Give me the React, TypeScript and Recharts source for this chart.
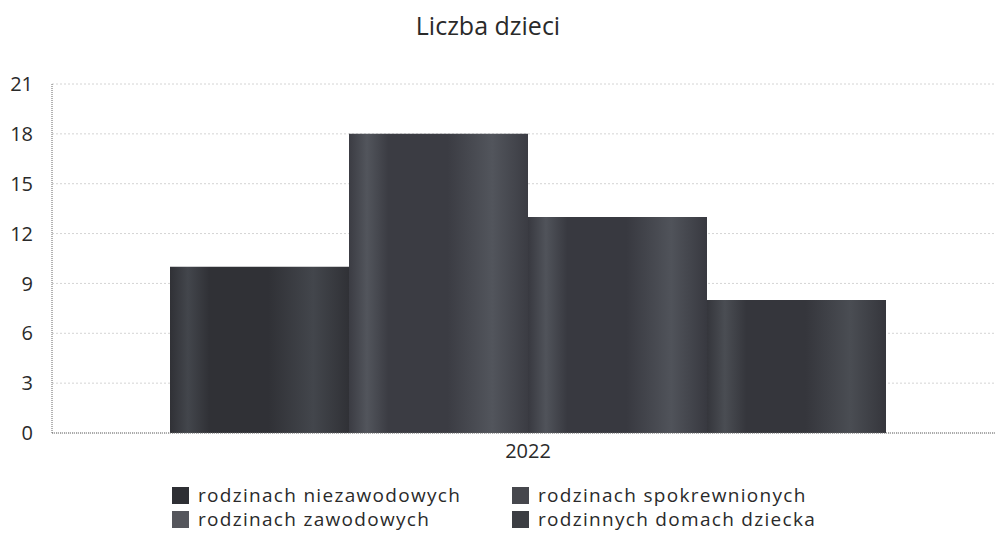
import React from "react";
import { BarChart, Bar, XAxis, YAxis, CartesianGrid } from "recharts";

const categories = ["2022"];
const seriesNames = [
  "rodzinach niezawodowych",
  "rodzinach spokrewnionych",
  "rodzinach zawodowych",
  "rodzinnych domach dziecka",
];
const seriesValues = [10, 18, 13, 8];
const yTicks = [0, 3, 6, 9, 12, 15, 18, 21];
const title = "Liczba dzieci";

const seriesKeys = ["s0", "s1", "s2", "s3"];
const baseColors = ["#303136", "#3b3c43", "#383940", "#35363c"];
const lightColors = ["#43464c", "#52555c", "#50535a", "#4a4d53"];
const legendColors = ["#2e2f34", "#46474d", "#55565c", "#3c3e43"];

const data = categories.map((c) => {
  const row: Record<string, number | string> = { name: c };
  seriesKeys.forEach((k, i) => (row[k] = seriesValues[i]));
  return row;
});

const FONT = "'Open Sans', sans-serif";

const LegendBlock = () => (
  <div style={{ position: "absolute", left: 0, top: 484, width: 995, height: 50, fontFamily: FONT, fontSize: 19, letterSpacing: 1.3, color: "#2a2a2a" }}>
    {seriesNames.map((n, i) => {
      const col = i % 2;
      const row = Math.floor(i / 2);
      return (
        <div
          key={n}
          style={{
            position: "absolute",
            left: col === 0 ? 172 : 512,
            top: row * 24,
            display: "flex",
            alignItems: "center",
            height: 22,
            whiteSpace: "nowrap",
          }}
        >
          <span style={{ display: "inline-block", width: 17, height: 17, background: legendColors[i], marginRight: 9 }} />
          <span style={{ lineHeight: "22px" }}>{n}</span>
        </div>
      );
    })}
  </div>
);

export default function App() {
  return (
    <div style={{ position: "absolute", left: 0, top: 0, width: 995, height: 533, background: "#fff" }}>
      <div
        style={{
          position: "absolute",
          left: 0,
          top: 8,
          width: 976,
          textAlign: "center",
          fontFamily: FONT,
          fontSize: 25,
          color: "#2a2a2a",
          lineHeight: "34px",
        }}
      >
        {title}
      </div>
      <BarChart
        width={995}
        height={533}
        data={data}
        margin={{ top: 84, right: 0, bottom: 70, left: 0 }}
        barCategoryGap={109}
        barGap={0}
      >
        <defs>
          {seriesKeys.map((k, i) => (
            <linearGradient key={k} id={`g${i}`} x1="0" y1="0" x2="1" y2="0">
              <stop offset="0" stopColor={baseColors[i]} />
              <stop offset="0.1" stopColor={lightColors[i]} />
              <stop offset="0.22" stopColor={baseColors[i]} />
              <stop offset="0.55" stopColor={baseColors[i]} />
              <stop offset="0.8" stopColor={lightColors[i]} />
              <stop offset="1" stopColor={baseColors[i]} />
            </linearGradient>
          ))}
        </defs>
        <CartesianGrid vertical={false} stroke="#d4d4d4" strokeDasharray="2 2" />
        <XAxis
          dataKey="name"
          height={30}
          padding={{ left: 9, right: 0 }}
          tickLine={false}
          axisLine={{ stroke: "#666", strokeDasharray: "1 1" }}
          tick={{ fill: "#2a2a2a", fontSize: 20, fontFamily: FONT }}
          tickMargin={5}
        />
        <YAxis
          width={52}
          domain={[0, 21]}
          ticks={yTicks}
          interval={0}
          tickLine={false}
          tickSize={0}
          tickMargin={19}
          axisLine={{ stroke: "#666", strokeDasharray: "1 1" }}
          tick={{ fill: "#2a2a2a", fontSize: 20, fontFamily: FONT }}
        />
        {seriesKeys.map((k, i) => (
          <Bar key={k} dataKey={k} name={seriesNames[i]} fill={`url(#g${i})`} isAnimationActive={false} />
        ))}
      </BarChart>
      <LegendBlock />
    </div>
  );
}
